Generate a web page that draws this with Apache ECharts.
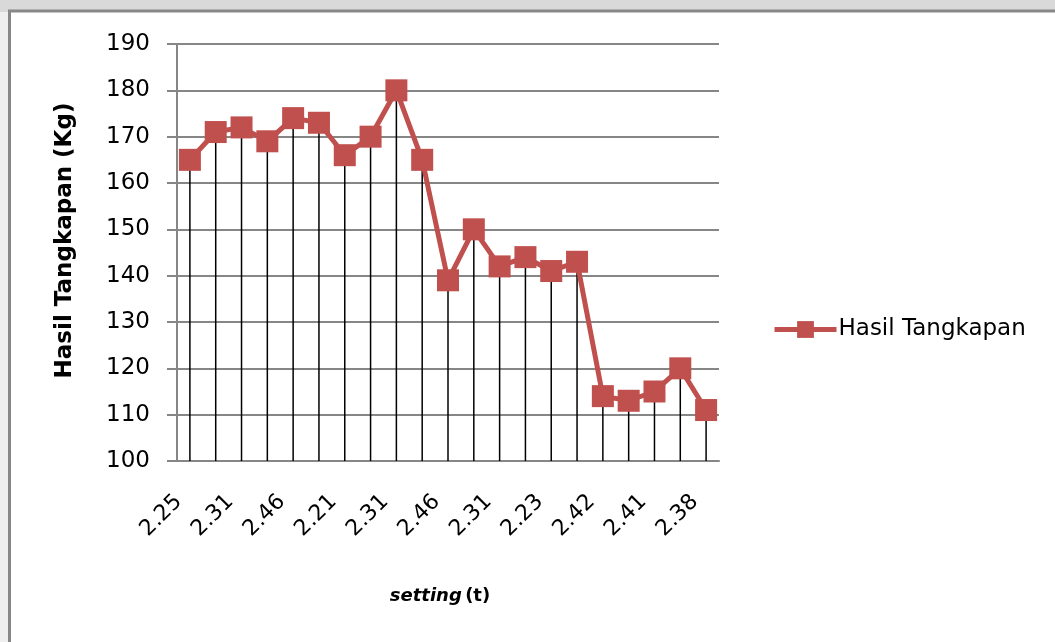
<!DOCTYPE html>
<html>
<head>
<meta charset="utf-8">
<script src="https://cdn.jsdelivr.net/npm/echarts@6/dist/echarts.min.js"></script>
<style>
  html, body { margin: 0; padding: 0; background: #d9d9d9; }
  #chart { width: 1055px; height: 642px; }
</style>
</head>
<body>
<div id="chart"></div>
<script>
// setting (t) per haul; only every other label is shown on the axis
const settingLabels = ['2.25', '2.28', '2.31', '2.35', '2.46', '2.30', '2.21', '2.27', '2.31', '2.40',
                       '2.46', '2.33', '2.31', '2.26', '2.23', '2.36', '2.42', '2.39', '2.41', '2.34', '2.38'];
// Hasil Tangkapan (Kg)
const catchKg = [165, 171, 172, 169, 174, 173, 166, 170, 180, 165,
                 139, 150, 142, 144, 141, 143, 114, 113, 115, 120, 111];
const yTicks = { min: 100, max: 190, step: 10 };

const FONT = '"DejaVu Sans", sans-serif';
const chart = echarts.init(document.getElementById('chart'), null, { renderer: 'canvas' });

chart.setOption({
  backgroundColor: '#d9d9d9',
  animation: false,
  graphic: [
    { type: 'rect', z: -10, shape: { x: 0, y: 12, width: 10, height: 640 }, style: { fill: '#efefef' } },
    { type: 'rect', z: -9, shape: { x: 9.5, y: 11, width: 1100, height: 700 },
      style: { fill: '#ffffff', stroke: '#888888', lineWidth: 3 } }
  ],
  grid: { left: 177, top: 44, width: 542, height: 417, containLabel: false },
  legend: {
    data: ['Hasil Tangkapan'],
    left: 772, top: 318, padding: 0,
    itemWidth: 62, itemHeight: 21, itemGap: 0,
    lineStyle: { width: 5 },
    textStyle: { fontFamily: FONT, fontSize: 23, color: '#000', padding: [0, 0, 0, -3] },
    selectedMode: false
  },
  xAxis: {
    type: 'category',
    data: settingLabels,
    boundaryGap: true,
    name: '{i|setting} {b|(t)}',
    nameLocation: 'middle',
    nameGap: 126,
    nameTextStyle: {
      padding: [0, 16, 0, 0],
      rich: {
        i: { fontFamily: FONT, fontStyle: 'italic', fontWeight: 'bold', fontSize: 18, color: '#000' },
        b: { fontFamily: FONT, fontWeight: 'bold', fontSize: 18, color: '#000' }
      }
    },
    axisLine: { lineStyle: { color: '#868686', width: 2 } },
    axisTick: { show: false },
    axisLabel: {
      interval: 1, rotate: 45, margin: 26,
      padding: [0, 16, 0, 0],
      fontFamily: FONT, fontSize: 22, color: '#000'
    },
    splitLine: { show: false }
  },
  yAxis: {
    type: 'value',
    min: yTicks.min, max: yTicks.max, interval: yTicks.step,
    name: 'Hasil Tangkapan (Kg)',
    nameLocation: 'middle',
    nameGap: 100,
    nameTextStyle: { fontFamily: FONT, fontWeight: 'bold', fontSize: 23, color: '#000', padding: [0, 0, 0, 24] },
    axisLine: { show: true, lineStyle: { color: '#868686', width: 2 } },
    axisTick: { show: true, length: 10, lineStyle: { color: '#868686', width: 2 } },
    axisLabel: { margin: 27, fontFamily: FONT, fontSize: 23, color: '#000' },
    splitLine: { lineStyle: { color: '#868686', width: 2 } }
  },
  series: [
    {
      // drop lines from each point down to the axis
      name: 'drop',
      type: 'bar',
      data: catchKg,
      barWidth: 1.5,
      itemStyle: { color: '#000' },
      z: 1,
      silent: true
    },
    {
      name: 'Hasil Tangkapan',
      type: 'line',
      data: catchKg,
      symbol: 'rect',
      symbolSize: 22,
      showAllSymbol: true,
      lineStyle: { color: '#c0504d', width: 5 },
      itemStyle: { color: '#c0504d', opacity: 1 },
      z: 3
    }
  ]
});
</script>
</body>
</html>
